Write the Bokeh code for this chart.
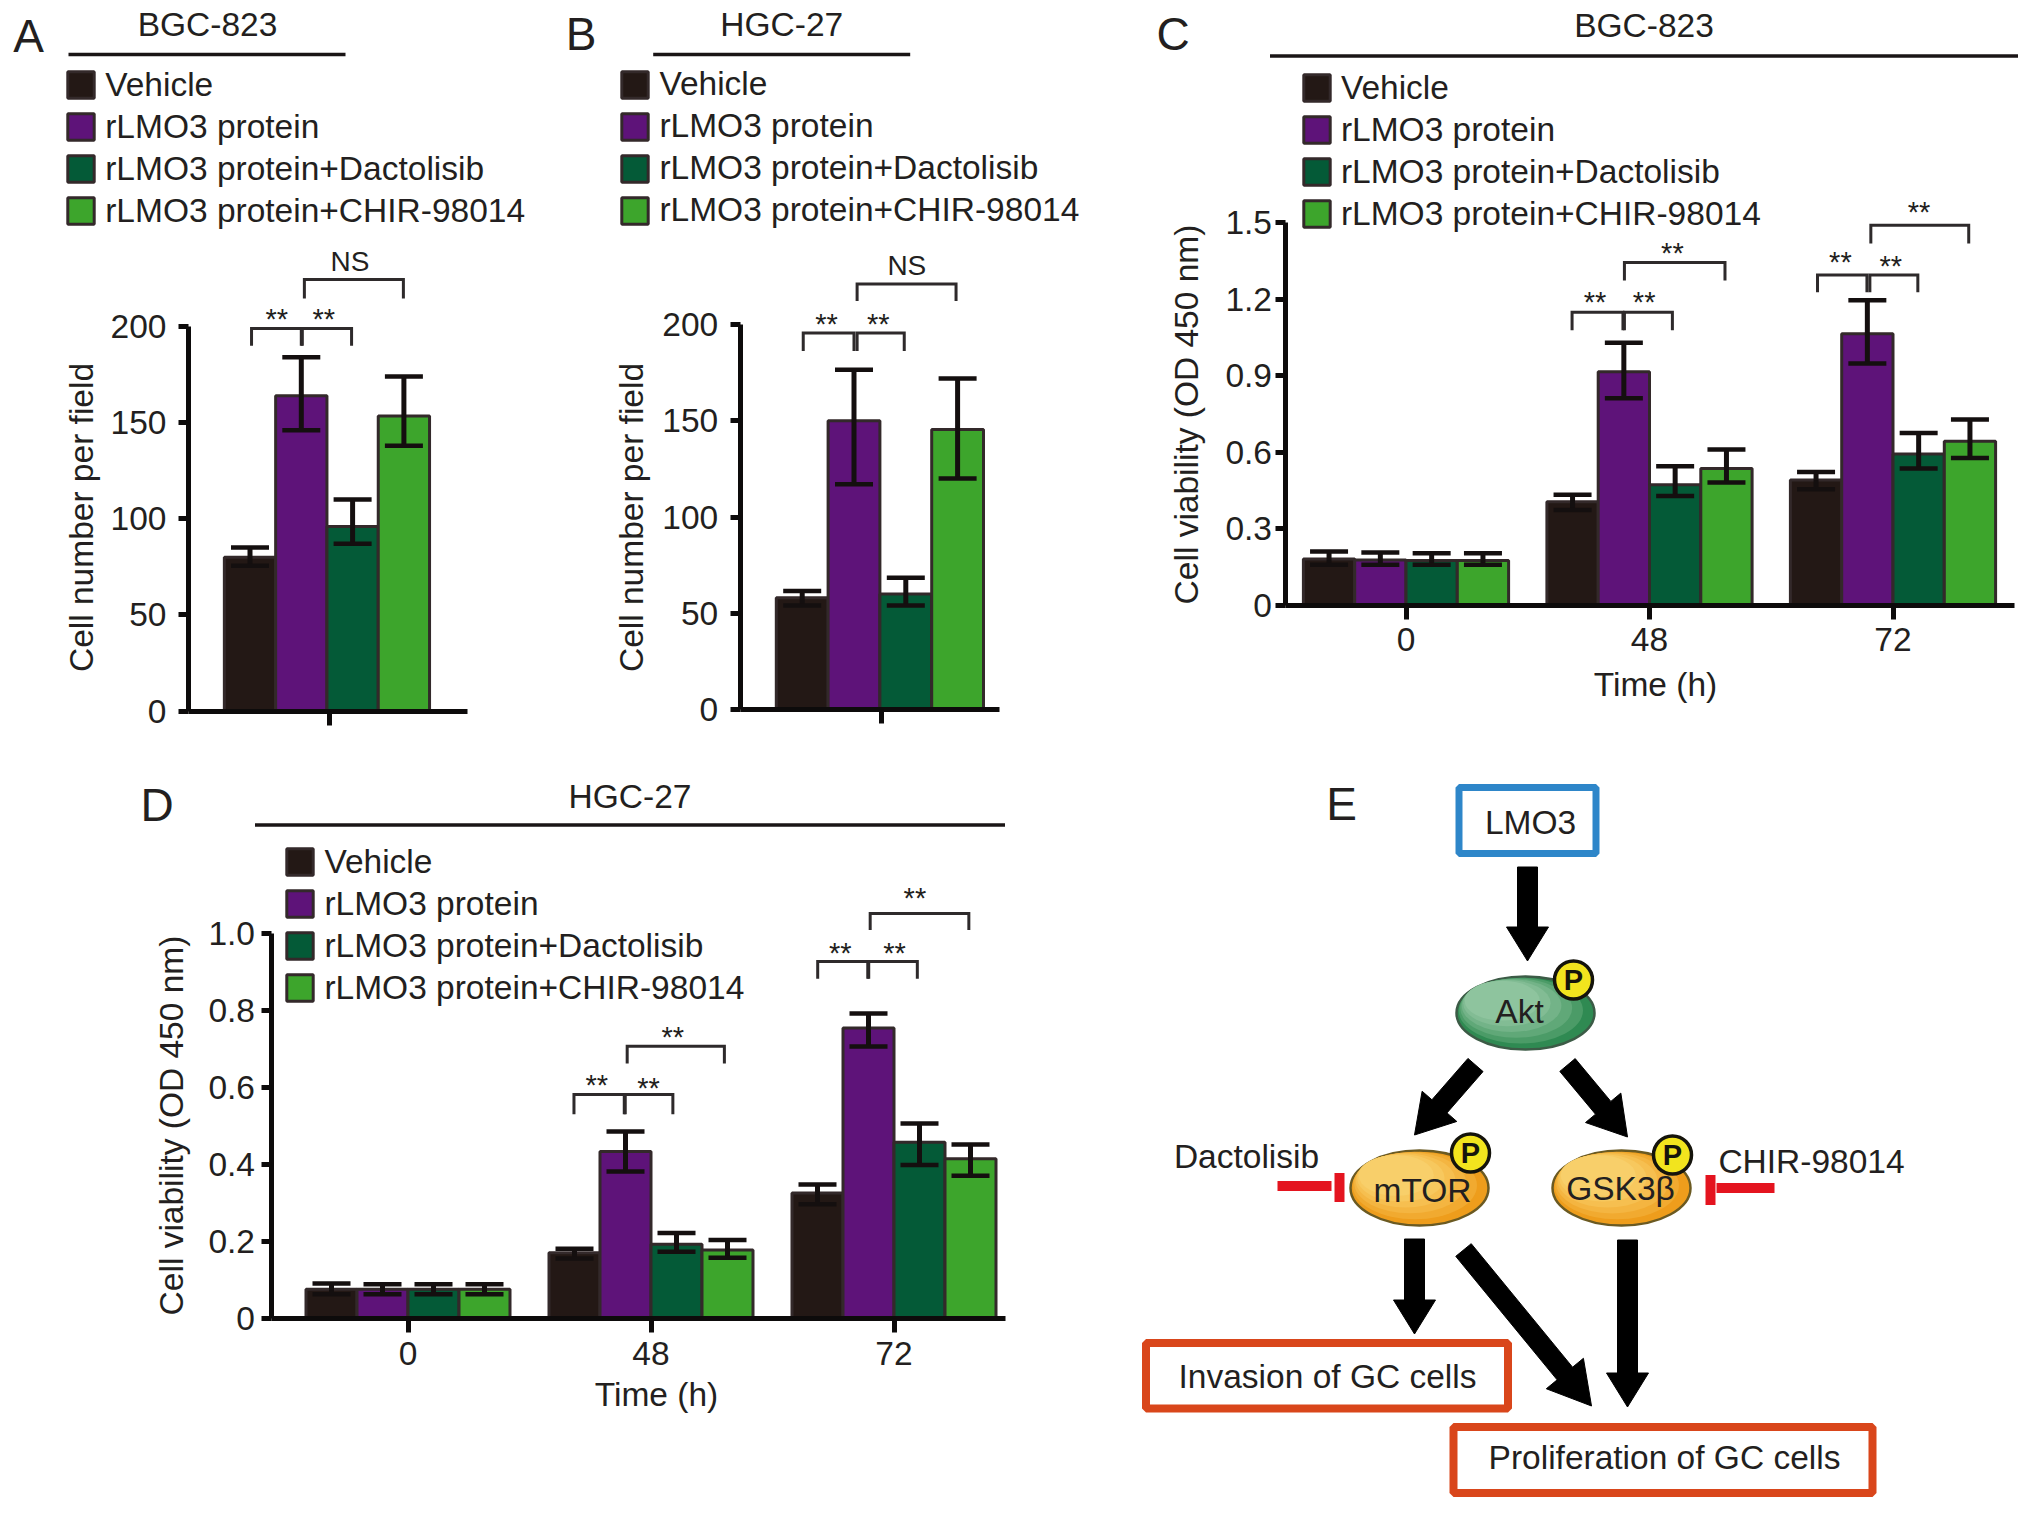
from math import pi, hypot
from bokeh.embed import file_html
from bokeh.resources import INLINE
from bokeh.plotting import figure
from bokeh.layouts import column, row
from bokeh.models import (ColumnDataSource, Label, Legend, Range1d, FixedTicker,
                          Whisker, TeeHead)

SERIES = ["Vehicle", "rLMO3 protein", "rLMO3 protein+Dactolisib", "rLMO3 protein+CHIR-98014"]
COLORS = ["#231815", "#5e1379", "#045a37", "#3da52c"]

# Panel A
A_MEAN = [80, 164, 96, 153.5]
A_UP = [85, 184, 110, 174]
A_LO = [75.5, 146, 87, 138]
# Panel B
B_MEAN = [58, 150, 60, 145.5]
B_UP = [61.5, 176.5, 68.5, 172]
B_LO = [54, 117, 54, 120]
# Panel C: rows = series, columns = time
TIME_LABELS = ["0", "48", "72"]
C_MEAN = [[0.18, 0.405, 0.49], [0.176, 0.915, 1.064], [0.175, 0.472, 0.592], [0.175, 0.535, 0.642]]
C_UP = [[0.21, 0.432, 0.522], [0.206, 1.028, 1.195], [0.203, 0.544, 0.675], [0.203, 0.61, 0.727]]
C_LO = [[0.158, 0.373, 0.454], [0.158, 0.811, 0.947], [0.158, 0.427, 0.535], [0.158, 0.48, 0.576]]
# Panel D
D_MEAN = [[0.075, 0.17, 0.325], [0.075, 0.433, 0.754], [0.075, 0.192, 0.457], [0.075, 0.177, 0.414]]
D_UP = [[0.09, 0.18, 0.347], [0.088, 0.485, 0.792], [0.088, 0.221, 0.506], [0.088, 0.203, 0.451]]
D_LO = [[0.062, 0.155, 0.296], [0.062, 0.381, 0.706], [0.062, 0.172, 0.398], [0.062, 0.157, 0.37]]

# Significance brackets: x0, x1, top value, leg-end value
A_BR = [(0.03, 1.0, 199, 190), (1.02, 1.98, 199, 190), (1.06, 2.99, 224.4, 214.5)]
A_ST = [(0.52, 205.7, "**"), (1.44, 205.7, "**")]
A_NS = (1.95, 233.8)
B_BR = [(0.02, 1.0, 195.6, 186.2), (1.06, 1.97, 195.6, 186.2), (1.06, 2.97, 221, 212.2)]
B_ST = [(0.47, 201.8, "**"), (1.47, 201.8, "**")]
B_NS = (2.02, 230.6)
C_BR = [(0.682, 0.891, 1.148, 1.077), (0.897, 1.094, 1.148, 1.077), (0.897, 1.31, 1.343, 1.273),
        (1.69, 1.893, 1.294, 1.226), (1.905, 2.102, 1.294, 1.226), (1.909, 2.311, 1.489, 1.418)]
C_ST = [(0.776, 1.2, "**"), (0.978, 1.2, "**"), (1.094, 1.394, "**"),
        (1.784, 1.355, "**"), (1.991, 1.343, "**"), (2.107, 1.551, "**")]
D_BR = [(0.683, 0.89, 0.581, 0.53), (0.894, 1.09, 0.581, 0.53), (0.902, 1.302, 0.707, 0.662),
        (1.686, 1.892, 0.927, 0.882), (1.896, 2.096, 0.927, 0.882), (1.902, 2.308, 1.052, 1.009)]
D_ST = [(0.777, 0.614, "**"), (0.99, 0.607, "**"), (1.09, 0.739, "**"),
        (1.779, 0.956, "**"), (2.002, 0.956, "**"), (2.086, 1.099, "**")]

FONT = "Liberation Sans"
INK = "#231f20"
TXT = 33.5


def label(p, x, y, text, size=TXT, angle=0, yoff=0, style="normal", color=INK):
    p.add_layout(Label(x=x, y=y, text=text, text_font=FONT, text_font_size=f"{size}px",
                       text_color=color, text_align="center", text_baseline="middle",
                       angle=angle, y_offset=yoff, text_font_style=style))


def panel(fw, fh, frame_l, y0_px, ymax_px, ymax, xc0, unit, yticks, yover, ystand,
          xticks, xover, bound_end, xstand, show_xlabels=True, off=0, top=0):
    yscale = (y0_px - ymax_px) / ymax
    dx = lambda v: (v - xc0) / unit
    dy = lambda v: (y0_px - v) / yscale
    p = figure(width=fw, height=fh + top, toolbar_location=None, output_backend="svg",
               x_range=Range1d(dx(-off), dx(fw - off)), y_range=Range1d(dy(fh), dy(-top)),
               min_border_left=0, min_border_right=0, min_border_top=0, min_border_bottom=0,
               frame_align=False)
    p.grid.visible = False
    p.outline_line_color = None
    ax = p.yaxis[0]
    ax.fixed_location = dx(frame_l)
    ax.ticker = FixedTicker(ticks=yticks)
    ax.major_label_overrides = yover
    ax.bounds = (0, ymax)
    ax.major_tick_in = 0
    ax.major_tick_out = 10
    ax.minor_tick_line_color = None
    ax.major_tick_line_width = 5
    ax.axis_line_width = 5
    ax.axis_line_color = "#0d0b0b"
    ax.major_tick_line_color = "#0d0b0b"
    ax.major_label_text_font = FONT
    ax.major_label_text_font_size = f"{TXT}px"
    ax.major_label_text_color = INK
    ax.major_label_standoff = ystand
    bx = p.xaxis[0]
    bx.fixed_location = 0
    bx.ticker = FixedTicker(ticks=xticks)
    bx.major_label_overrides = xover
    bx.bounds = (dx(frame_l), bound_end)
    bx.major_tick_in = 0
    bx.major_tick_out = 14
    bx.minor_tick_line_color = None
    bx.major_tick_line_width = 5
    bx.axis_line_width = 5
    bx.axis_line_color = "#0d0b0b"
    bx.major_tick_line_color = "#0d0b0b"
    bx.major_label_text_font = FONT
    bx.major_label_text_font_size = f"{TXT}px" if show_xlabels else "0px"
    bx.major_label_text_color = INK
    bx.major_label_standoff = xstand
    return p, dx, dy


def bars(p, xs, means, ups, los, width, cap=38):
    rends = []
    for i, (x, m) in enumerate(zip(xs, means)):
        src = ColumnDataSource(dict(x=x, top=m))
        r = p.vbar(x="x", top="top", bottom=0, width=width, source=src, fill_color=COLORS[i],
                   line_color="#33292a", line_width=3)
        rends.append(r)
    for i, x in enumerate(xs):
        src = ColumnDataSource(dict(x=x, up=ups[i], lo=los[i]))
        w = Whisker(base="x", upper="up", lower="lo", source=src, dimension="height",
                    line_color="#140f0f", line_width=5, level="annotation",
                    upper_head=TeeHead(size=cap, line_width=4.5, line_color="#140f0f"),
                    lower_head=TeeHead(size=cap, line_width=4.5, line_color="#140f0f"))
        p.add_layout(w)
    return rends


def brackets(p, br):
    xs = [[a, a, b, b] for a, b, t, e in br]
    ys = [[e, t, t, e] for a, b, t, e in br]
    p.multi_line(xs, ys, line_color="#2e2a2b", line_width=3, line_join="miter")


def stars(p, st):
    for x, y, s in st:
        label(p, x, y, s, size=29, yoff=-3)


def legend(p, rends, fh, swatch_left, first_center):
    g, row_h, gap = 33, 38.8, 4
    left = swatch_left - 0.1 * g
    bottom = first_center - row_h / 2 + 4 * row_h + 3 * gap
    lg = Legend(items=[(s, [r]) for s, r in zip(SERIES, rends)],
                location=(left, fh - bottom), padding=0, margin=0,
                spacing=gap, glyph_width=g, glyph_height=g, label_standoff=8,
                label_text_font=FONT, label_text_font_size=f"{TXT}px",
                label_text_color=INK, background_fill_alpha=0, border_line_color=None,
                label_text_baseline="middle")
    p.add_layout(lg)


def head(p, dx, dy, letter, title, tx, ty, lx0, lx1, ly, lettx, letty):
    label(p, dx(lettx), dy(letty), letter, size=46)
    label(p, dx(tx), dy(ty), title)
    p.line([dx(lx0), dx(lx1)], [dy(ly), dy(ly)], line_color="#1a1516", line_width=3.5)


YT200 = [0, 50, 100, 150, 200]
# ---------- A ----------
pa, dx, dy = panel(552, 762, 181, 702.5, 318, 200, 242.5, 51.3, YT200,
                   {v: str(v) for v in YT200}, 12, [1.55], {1.55: ""}, 4.24, 0,
                   show_xlabels=False, off=-1, top=8)
rs = bars(pa, [[i] for i in range(4)], [[v] for v in A_MEAN], [[v] for v in A_UP], [[v] for v in A_LO], 1)
brackets(pa, A_BR); stars(pa, A_ST)
label(pa, A_NS[0], A_NS[1], "NS", size=28)
legend(pa, rs, 762, 59.5, 73.75)
head(pa, dx, dy, "A", "BGC-823", 200, 16, 61, 338, 46, 21, 27)
label(pa, dx(74), dy(509), "Cell number per field", angle=pi / 2)

# ---------- B ----------
pb, dx, dy = panel(580, 762, 181, 701, 316, 200, 243, 51.8, YT200,
                   {v: str(v) for v in YT200}, 12, [1.53], {1.53: ""}, 3.8, 0,
                   show_xlabels=False, off=-1.3, top=8)
rs = bars(pb, [[i] for i in range(4)], [[v] for v in B_MEAN], [[v] for v in B_UP], [[v] for v in B_LO], 1)
brackets(pb, B_BR); stars(pb, B_ST)
label(pb, B_NS[0], B_NS[1], "NS", size=28)
legend(pb, rs, 762, 61.7, 73.5)
head(pb, dx, dy, "B", "HGC-27", 222.6, 16, 94, 351, 46, 22, 25)
label(pb, dx(72), dy(509), "Cell number per field", angle=pi / 2)

# ---------- C ----------
YC = [0, 0.3, 0.6, 0.9, 1.2, 1.5]
BW_C = 51.3 / 243.5
xs_c = [[g + (i - 1.5) * BW_C for g in range(3)] for i in range(4)]
pc, dx, dy = panel(884, 762, 147, 596.5, 214, 1.5, 268, 243.5, YC,
                   {0: "0", 0.3: "0.3", 0.6: "0.6", 0.9: "0.9", 1.2: "1.2", 1.5: "1.5"}, 3,
                   [0, 1, 2], {i: t for i, t in enumerate(TIME_LABELS)}, 2.5, 9, off=-2.5, top=8)
rs = bars(pc, xs_c, C_MEAN, C_UP, C_LO, BW_C)
brackets(pc, C_BR); stars(pc, C_ST)
legend(pc, rs, 762, 163.2, 77.15)
head(pc, dx, dy, "C", "BGC-823", 506, 17, 132, 880, 47.5, 35, 25)
label(pc, dx(48), dy(406), "Cell viability (OD 450 nm)", angle=pi / 2)
label(pc, dx(517.5), dy(676), "Time (h)")

# ---------- D ----------
YD = [0, 0.2, 0.4, 0.6, 0.8, 1.0]
BW_D = 51 / 243
xs_d = [[g + (i - 1.5) * BW_D for g in range(3)] for i in range(4)]
pd, dx, dy = panel(1122, 737, 265, 547.5, 163, 1.0, 402, 243, YD,
                   {0: "0", 0.2: "0.2", 0.4: "0.4", 0.6: "0.6", 0.8: "0.8", 1: "1.0"}, 6,
                   [0, 1, 2], {i: t for i, t in enumerate(TIME_LABELS)}, 2.46, 10, off=-2.5)
rs = bars(pd, xs_d, D_MEAN, D_UP, D_LO, BW_D)
brackets(pd, D_BR); stars(pd, D_ST)
legend(pd, rs, 737, 278.7, 89.1)
head(pd, dx, dy, "D", "HGC-27", 624, 26, 249, 999, 54.5, 151, 34)
label(pd, dx(165), dy(355), "Cell viability (OD 450 nm)", angle=pi / 2)
label(pd, dx(650.5), dy(624), "Time (h)")

# ---------- E (pathway diagram, drawn on a pixel-like scale of the reference) ----------
pe = figure(width=894, height=737, toolbar_location=None, output_backend="svg",
            x_range=Range1d(1133, 2027), y_range=Range1d(1509.5, 772.5), frame_align=False,
            min_border_left=0, min_border_right=0, min_border_top=0, min_border_bottom=0)
pe.axis.visible = False
pe.grid.visible = False
pe.outline_line_color = None


def arrow(x0, y0_, x1, y1, shaft=20, hw=21, hl=34):
    L = hypot(x1 - x0, y1 - y0_)
    ux, uy = (x1 - x0) / L, (y1 - y0_) / L
    nx, ny = -uy, ux
    bx_, by_ = x1 - ux * hl, y1 - uy * hl
    s = shaft / 2
    xs = [x0 + nx * s, bx_ + nx * s, bx_ + nx * hw, x1, bx_ - nx * hw, bx_ - nx * s, x0 - nx * s]
    ys = [y0_ + ny * s, by_ + ny * s, by_ + ny * hw, y1, by_ - ny * hw, by_ - ny * s, y0_ - ny * s]
    pe.patch(xs, ys, fill_color="#000000", line_color="#000000", line_width=1)


arrow(1530, 869, 1530, 963)
arrow(1478, 1067, 1417, 1137, hw=23, hl=38)
arrow(1570, 1067, 1630, 1139, hw=23, hl=38)
arrow(1417, 1241, 1417, 1336)
arrow(1466, 1252, 1594, 1408, hw=24, hl=42)
arrow(1630, 1242, 1630, 1409)


def node(cx, cy, w, h, colors, edge):
    pe.ellipse([cx], [cy], width=w, height=h, fill_color=colors[0], line_color=edge, line_width=2.5)
    for k, c in enumerate(colors[1:], start=1):
        f = 1 - 0.09 * k
        sh = 0.5 * (1 - f)
        pe.ellipse([cx - sh * w * 0.75], [cy - sh * h * 0.75], width=w * f * 0.99, height=h * f * 0.99,
                   fill_color=c, line_color=None)


def phospho(cx, cy):
    pe.circle([cx], [cy], radius=19, fill_color="#f2e41e", line_color="#15140c", line_width=3.5)
    pe.text([cx], [cy], text=["P"], text_font={"value": FONT}, text_font_size={"value": "29px"},
            text_font_style="bold", text_align="center", text_baseline="middle", text_color="#15140c")


GREEN = ["#2f8a52", "#4b9b67", "#60a878", "#73b388", "#82bc94", "#8ec49e"]
ORANGE = ["#ee9d1c", "#f1aa30", "#f4b541", "#f6bf50", "#f7c85e", "#f8cf6a"]
node(1528, 1015, 138, 73, GREEN, "#3c5b46")
node(1422, 1190, 138, 75, ORANGE, "#6b5a22")
node(1624, 1190, 138, 75, ORANGE, "#6b5a22")
phospho(1576, 982); phospho(1473, 1155); phospho(1675, 1157)

pe.quad(left=[1461.5], right=[1598.5], top=[789.5], bottom=[855.5], fill_color=None, line_color="#2e86c9", line_width=7)
pe.quad(left=[1148.5], right=[1510.5], top=[1345], bottom=[1410.5], fill_color=None, line_color="#d9461b", line_width=8)
pe.quad(left=[1456], right=[1875], top=[1429], bottom=[1495], fill_color=None, line_color="#d9461b", line_width=8)

RED = "#e4141f"
pe.quad(left=[1280], right=[1334], top=[1183], bottom=[1193], fill_color=RED, line_color=None)
pe.quad(left=[1337], right=[1347], top=[1175], bottom=[1204], fill_color=RED, line_color=None)
pe.quad(left=[1719], right=[1777], top=[1185], bottom=[1195], fill_color=RED, line_color=None)
pe.quad(left=[1708], right=[1718], top=[1177], bottom=[1207], fill_color=RED, line_color=None)

for tx, ty, s in [(1533, 824, "LMO3"), (1522, 1013, "Akt"), (1425, 1192, "mTOR"), (1623, 1190, "GSK3β"),
                  (1249, 1158, "Dactolisib"), (1814, 1163, "CHIR-98014"),
                  (1330, 1378, "Invasion of GC cells"), (1667, 1459, "Proliferation of GC cells")]:
    label(pe, tx, ty, s)
label(pe, 1344, 806, "E", size=46)

layout = column(row(pa, pb, pc, spacing=0), row(pd, pe, spacing=0), spacing=0, margin=(0, 0, 0, 8))
open("out.html", "w").write(file_html(layout, INLINE))
